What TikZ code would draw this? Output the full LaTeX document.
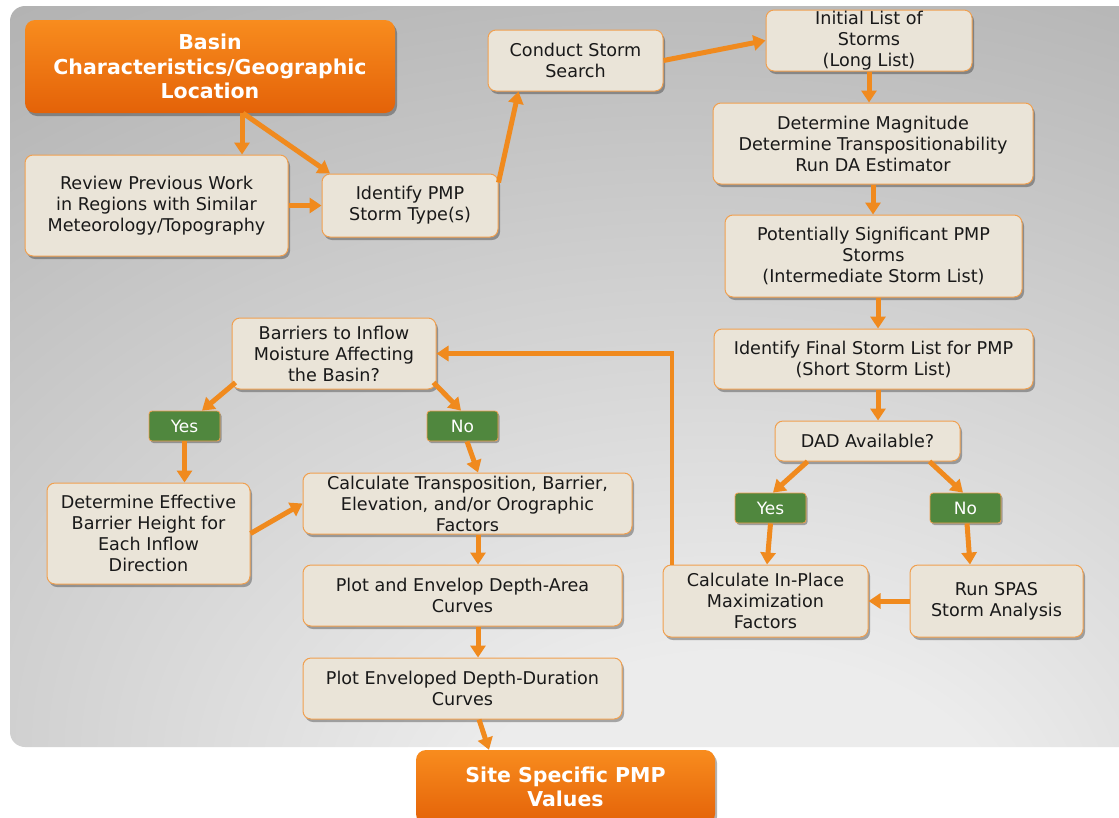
\documentclass[tikz,border=0pt]{standalone}
\usepackage{fontspec}
\setmainfont{DejaVu Sans}
\usetikzlibrary{arrows.meta,shadows,calc}
\definecolor{bgin}{RGB}{236,236,236}
\definecolor{bgmid}{RGB}{182,182,182}
\definecolor{bgmid2}{RGB}{158,158,158}
\definecolor{bgout}{RGB}{145,145,145}
\definecolor{boxfill}{RGB}{234,228,216}
\definecolor{boxline}{RGB}{240,160,80}
\definecolor{textc}{RGB}{25,25,25}
\definecolor{arrc}{RGB}{240,138,30}
\definecolor{orgtop}{RGB}{248,140,30}
\definecolor{orgbot}{RGB}{228,98,8}
\definecolor{tagg}{RGB}{80,135,62}
\pgfdeclareradialshading{bgshade}{\pgfpoint{8bp}{-35bp}}{color(0bp)=(bgin); color(12bp)=(bgin); color(48bp)=(bgmid); color(72bp)=(bgmid2); color(100bp)=(bgout)}
\tikzset{
  box/.style={draw=boxline, line width=1pt, fill=boxfill, rounded corners=8pt,
    align=center, inner sep=0pt, text=textc, font=\fontsize{17.6}{21}\selectfont,
    drop shadow={shadow xshift=2pt, shadow yshift=-3pt, opacity=0.3, fill=black}},
  obox/.style={rounded corners=10pt, top color=orgtop, bottom color=orgbot, draw=none,
    align=center, inner sep=0pt, text=white, font=\fontsize{20.5}{24.5}\selectfont\bfseries,
    drop shadow={shadow xshift=2pt, shadow yshift=-3pt, opacity=0.3, fill=black}},
  tag/.style={fill=tagg, draw=boxline, line width=0.8pt, rounded corners=3pt, text=white,
    minimum width=71pt, minimum height=30pt, inner sep=0pt, font=\fontsize{17}{20}\selectfont,
    drop shadow={shadow xshift=1.5pt, shadow yshift=-2pt, opacity=0.3, fill=black}},
  arr/.style={draw=arrc, line width=5pt, -{Triangle[width=15pt,length=12pt]}},
  feed/.style={draw=arrc, line width=4.5pt, -{Triangle[width=15pt,length=12pt]}}
}
\begin{document}
\begin{tikzpicture}[x=1pt,y=-1pt]
\useasboundingbox (0,0) rectangle (1119,817);
\clip (0,0) rectangle (1119,817);
\fill[white] (0,0) rectangle (1119,817);
\path[shading=bgshade, rounded corners=15pt] (10,6) rectangle (1140,747);

% nodes
\node[obox, minimum width=370pt, minimum height=93pt] (basin) at (210,66.5) {Basin\\Characteristics/Geographic\\Location};
\node[box, minimum width=263pt, minimum height=101pt] (review) at (156.5,205.5) {Review Previous Work\\in Regions with Similar\\Meteorology/Topography};
\node[box, minimum width=176pt, minimum height=63pt] (idpmp) at (410,205.5) {Identify PMP\\Storm Type(s)};
\node[box, minimum width=175pt, minimum height=61pt] (conduct) at (575.5,60.5) {Conduct Storm\\Search};
\node[box, minimum width=206pt, minimum height=61pt] (initial) at (869,40.5) {Initial List of\\Storms\\(Long List)};
\node[box, minimum width=320pt, minimum height=81pt] (detmag) at (873,143.5) {Determine Magnitude\\Determine Transpositionability\\Run DA Estimator};
\node[box, minimum width=297pt, minimum height=82pt] (potent) at (873.5,256) {Potentially Significant PMP\\Storms\\(Intermediate Storm List)};
\node[box, minimum width=319pt, minimum height=60pt] (idfinal) at (873.5,359) {Identify Final Storm List for PMP\\(Short Storm List)};
\node[box, minimum width=185pt, minimum height=40pt] (dad) at (867.5,441) {DAD Available?};
\node[tag] (yesR) at (770.5,508) {Yes};
\node[tag] (noR) at (965.5,508) {No};
\node[box, minimum width=205pt, minimum height=72pt] (calcip) at (765.5,601) {Calculate In-Place\\Maximization\\Factors};
\node[box, minimum width=173pt, minimum height=72pt] (runspas) at (996.5,601) {Run SPAS\\Storm Analysis};
\node[box, minimum width=204pt, minimum height=71pt] (barriers) at (334,353.5) {Barriers to Inflow\\Moisture Affecting\\the Basin?};
\node[tag] (yesL) at (184.5,426) {Yes};
\node[tag] (noL) at (462.5,426) {No};
\node[box, minimum width=203pt, minimum height=101pt] (deteff) at (148.5,533.5) {Determine Effective\\Barrier Height for\\Each Inflow\\Direction};
\node[box, minimum width=329pt, minimum height=61pt] (calctrans) at (467.5,503.5) {Calculate Transposition, Barrier,\\Elevation, and/or Orographic\\Factors};
\node[box, minimum width=319pt, minimum height=61pt] (plotenv) at (462.5,595.5) {Plot and Envelop Depth-Area\\Curves};
\node[box, minimum width=319pt, minimum height=61pt] (plotdd) at (462.5,688.5) {Plot Enveloped Depth-Duration\\Curves};
\node[obox, minimum width=299pt, minimum height=74pt] (site) at (565.5,787) {Site Specific PMP\\Values};

% connectors
\draw[arr] ([xshift=32pt]basin.south) -- ([xshift=85.5pt]review.north);
\draw[arr] ([xshift=33pt]basin.south) -- ([xshift=-80pt]idpmp.north);
\draw[arr] (review.east) -- (idpmp.west);
\draw[arr] ([yshift=23pt]idpmp.east) -- ([xshift=-57pt]conduct.south);
\draw[arr] (conduct.east) -- (initial.west);
\draw[arr] (initial.south) -- (initial.south |- detmag.north);
\draw[arr] (detmag.south) -- (detmag.south |- potent.north);
\draw[arr] ([xshift=4.5pt]potent.south) -- ([xshift=4.5pt]potent.south |- idfinal.north);
\draw[arr] ([xshift=4.5pt]idfinal.south) -- ([xshift=4.5pt]idfinal.south |- dad.north);
\draw[arr] ([xshift=-60pt]dad.south) -- ([xshift=2.5pt]yesR.north);
\draw[arr] ([xshift=62pt]dad.south) -- ([xshift=-2.5pt]noR.north);
\draw[arr] (yesR.south) -- ([xshift=1.5pt]calcip.north);
\draw[arr] ([xshift=1.5pt]noR.south) -- ([xshift=-26.5pt]runspas.north);
\draw[arr] (runspas.west) -- (calcip.east);
\draw[feed] ([xshift=-93.5pt]calcip.north) |- (barriers.east);
\draw[arr] ([xshift=4pt,yshift=7pt]barriers.south west) -- ([xshift=17.5pt]yesL.north);
\draw[arr] ([xshift=-3pt,yshift=7pt]barriers.south east) -- ([xshift=-1.5pt]noL.north);
\draw[arr] (yesL.south) -- (yesL.south |- deteff.north);
\draw[arr] ([xshift=4.5pt]noL.south) -- ([xshift=10.5pt]calctrans.north);
\draw[arr] (deteff.east) -- (calctrans.west);
\draw[arr] ([xshift=10.5pt]calctrans.south) -- ([xshift=15.5pt]plotenv.north);
\draw[arr] ([xshift=15.5pt]plotenv.south) -- ([xshift=15.5pt]plotdd.north);
\draw[arr] ([xshift=16.5pt]plotdd.south) -- ([xshift=-76.5pt]site.north);
\end{tikzpicture}
\end{document}
